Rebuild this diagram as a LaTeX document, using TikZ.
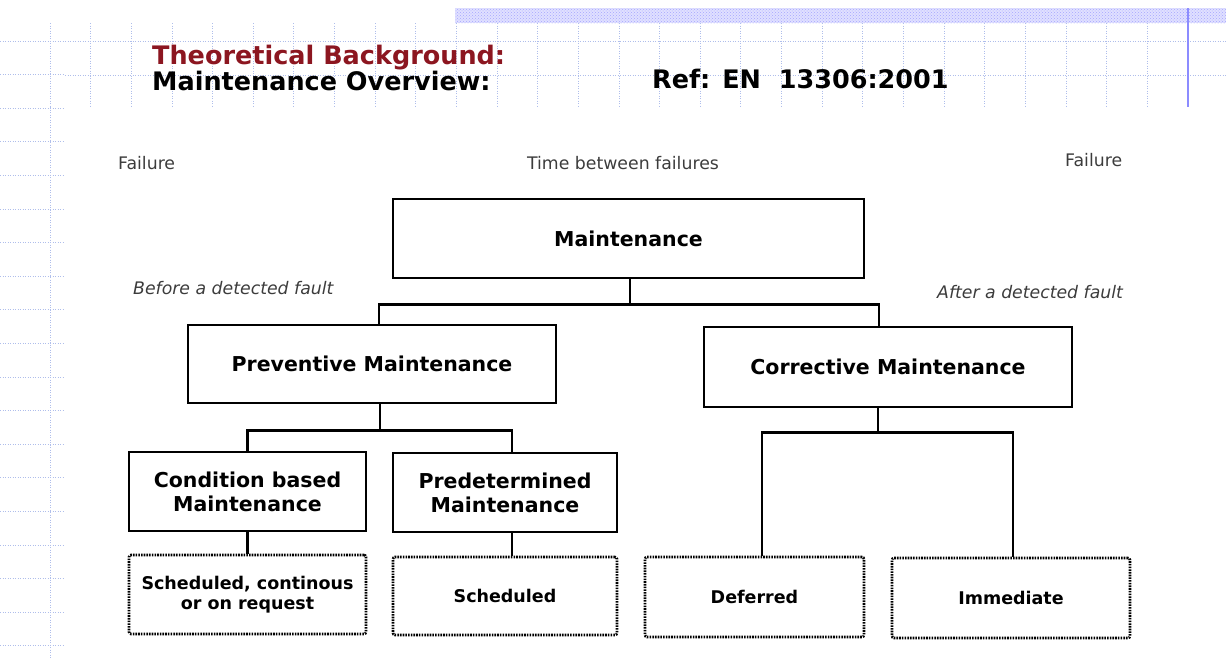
\documentclass[tikz,border=0pt]{standalone}
\usepackage{fontspec}
\setmainfont{DejaVu Sans}
\usepackage{tikz}
\usetikzlibrary{patterns}
\definecolor{titlered}{RGB}{140,22,32}
\definecolor{gridblue}{RGB}{175,190,235}
\definecolor{captiongray}{RGB}{60,60,60}

\begin{document}
\begin{tikzpicture}[x=1pt,y=-1pt,
   gridline/.style={gridblue, line width=.8pt, dash pattern=on 1pt off 1.5pt},
   mainbox/.style={draw, line width=2.6pt, align=center, inner sep=0pt,
      font=\fontsize{20.5}{24}\selectfont\bfseries},
   kindbox/.style={draw, line width=2.6pt, dash pattern=on 1.6pt off 1.1pt,
      rounded corners=2pt, align=center, inner sep=0pt,
      font=\fontsize{17.5}{19.5}\selectfont\bfseries},
   branch/.style={line width=2.6pt},
   caption/.style={captiongray, inner sep=0pt, font=\fontsize{17.3}{20}\selectfont}
]
   \useasboundingbox (0,0) rectangle (1226,659);

   % slide template
   \fill[blue!12] (455,8) rectangle (1226,23);
   \fill[pattern=crosshatch dots, pattern color=blue!35] (455,8) rectangle (1226,23);
   \foreach \k in {0,...,28}
      \draw[gridline] ({50+40.64*\k},23) -- ({50+40.64*\k},107);
   \draw[gridline] (50,107) -- (50,659);
   \foreach \k in {0,...,18}
      \draw[gridline] (0,{41+33.6*\k}) -- (65,{41+33.6*\k});
   \draw[gridline] (65,41) -- (1226,41);
   \draw[gridline] (65,75) -- (1226,75);
   \draw[blue!45, line width=2pt] (1188,8) -- (1188,107);

   % header
   \node[name=title, anchor=base west, inner sep=0pt, titlered,
      font=\fontsize{25.5}{28}\selectfont\bfseries] at (152,64) {Theoretical Background:};
   \node[name=subtitle, anchor=base west, inner sep=0pt,
      font=\fontsize{25.5}{28}\selectfont\bfseries] at (152,90) {Maintenance Overview:};
   \node[name=ref, anchor=base west, inner sep=0pt,
      font=\fontsize{25.5}{28}\selectfont\bfseries] at (652,88) {Ref: EN\ \ 13306:2001};

   % time line
   \node[name=failA, caption, anchor=west] at (118,163) {Failure};
   \node[name=between, caption] at (623,163) {Time between failures};
   \node[name=failB, caption, anchor=west] at (1065,160) {Failure};
   \node[name=before, caption, anchor=west, font=\fontsize{17.3}{20}\selectfont\itshape] at (133,288) {Before a detected fault};
   \node[name=after, caption, anchor=west, font=\fontsize{17.3}{20}\selectfont\itshape] at (937,292) {After a detected fault};

   % boxes
   \node[name=maint, mainbox, minimum width=471pt, minimum height=79pt] at (628.5,238.5) {Maintenance};
   \node[name=prev, mainbox, minimum width=368pt, minimum height=78pt] at (372,364) {Preventive Maintenance};
   \node[name=corr, mainbox, minimum width=368pt, minimum height=80pt] at (888,367) {Corrective Maintenance};
   \node[name=cond, mainbox, minimum width=237pt, minimum height=79pt] at (247.5,491.5) {Condition based\\Maintenance};
   \node[name=predet, mainbox, minimum width=224pt, minimum height=79pt] at (505,492.5) {Predetermined\\Maintenance};

   \node[name=schedcont, kindbox, minimum width=237pt, minimum height=79pt] at (247.5,594.5) {Scheduled, continous\\or on request};
   \node[name=sched, kindbox, minimum width=224pt, minimum height=78pt] at (505,596) {Scheduled};
   \node[name=deferred, kindbox, minimum width=219pt, minimum height=80pt] at (754.5,597) {Deferred};
   \node[name=immediate, kindbox, minimum width=238pt, minimum height=80pt] at (1011,598) {Immediate};

   % branches
   \draw[branch] ([xshift=1.5pt]maint.south) -- ++(0,25) coordinate (jMaint);
   \draw[branch] ([xshift=7pt]prev.north) |- (jMaint) -| ([xshift=-9pt]corr.north);

   \draw[branch] ([xshift=8pt]prev.south) -- ++(0,26) coordinate (jPrev);
   \draw[branch] (cond.north) |- (jPrev) -| ([xshift=7pt]predet.north);
   \draw[branch] (cond.south) -- (schedcont.north);
   \draw[branch] ([xshift=7pt]predet.south) -- ([xshift=7pt]sched.north);

   \draw[branch] ([xshift=-10pt]corr.south) -- ++(0,24) coordinate (jCorr);
   \draw[branch] ([xshift=7.5pt]deferred.north) |- (jCorr) -| ([xshift=2pt]immediate.north);
\end{tikzpicture}
\end{document}
